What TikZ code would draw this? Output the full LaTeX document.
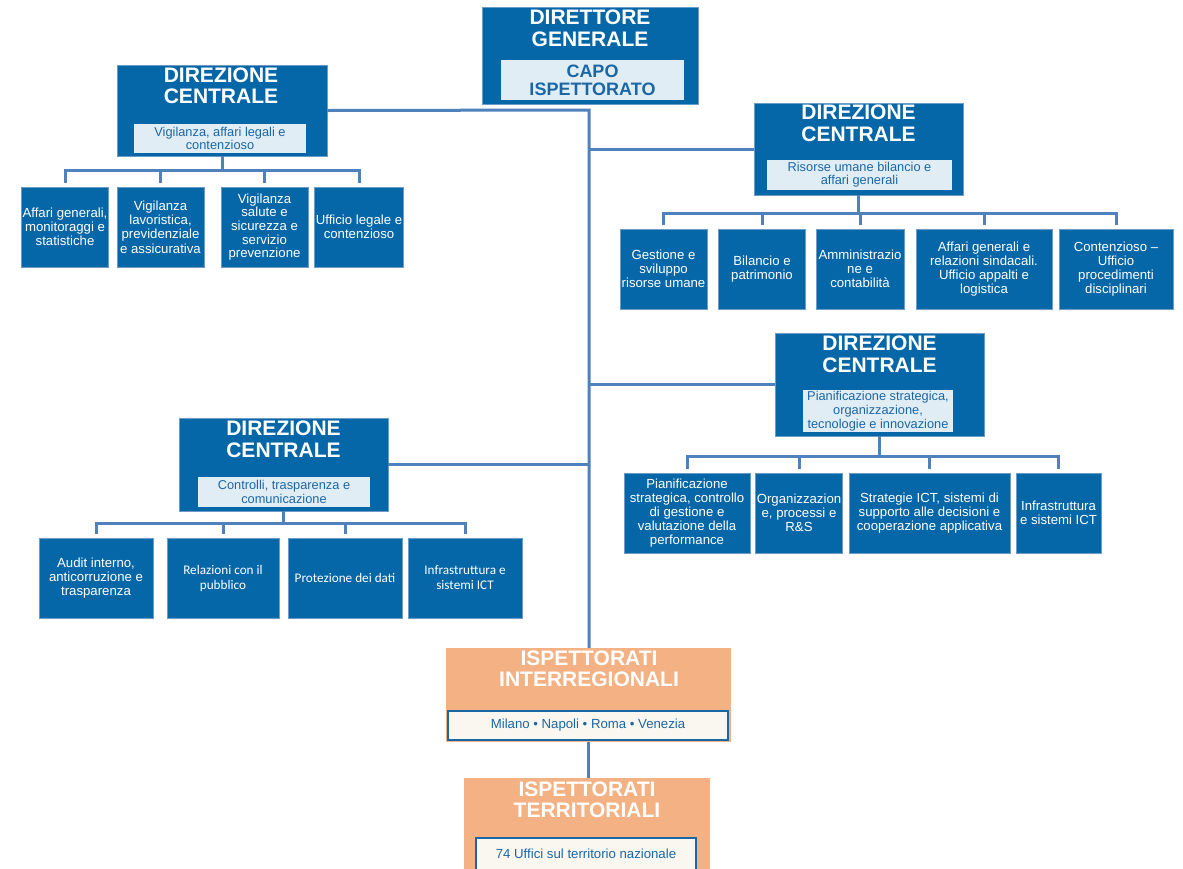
\documentclass[tikz,border=0pt]{standalone}
\usepackage{fontspec}
\setmainfont{Liberation Sans}
\newfontfamily\calibrifont{Carlito}
\usetikzlibrary{calc}
\definecolor{unitblue}{HTML}{0566A8}
\definecolor{unitedge}{HTML}{6C9BC8}
\definecolor{linkblue}{HTML}{4F81BD}
\definecolor{paleblue}{HTML}{E1EDF5}
\definecolor{textblue}{HTML}{1B67A6}
\definecolor{peach}{HTML}{F4B183}
\definecolor{cream}{HTML}{FAF6F0}

\begin{document}
\begin{tikzpicture}[x=1pt,y=-1pt,
  unitbox/.style={draw=unitedge,line width=.8pt,fill=unitblue,inner sep=0pt},
  headline/.style={text=white,font=\fontsize{21}{21.5}\selectfont\bfseries,
                   align=center,inner sep=0pt},
  tag/.style={fill=paleblue,text=textblue,font=\fontsize{12.8}{13.2}\selectfont,
              align=center,inner sep=0pt},
  office/.style={draw=unitedge,line width=.8pt,fill=unitblue,text=white,
                 font=\fontsize{13.2}{14.2}\selectfont,align=center,
                 inner sep=1pt,minimum height=80pt},
  calib/.style={font=\calibrifont\fontsize{13.2}{15}\selectfont},
  region/.style={fill=peach,inner sep=0pt},
  seat/.style={fill=cream,draw=textblue,line width=2.4pt,text=textblue,
               font=\fontsize{13.2}{14}\selectfont,inner sep=0pt},
  edge/.style={draw=linkblue,line width=3pt},
  drop/.style={edge,shorten >=4pt}
]
\fill[white] (0,0) rectangle (1183,868);
\useasboundingbox (0,0) rectangle (1183,868);

% direttore generale
\node[unitbox,minimum width=216pt,minimum height=97pt] (dg) at (590,55.5) {};
\node[headline] (dgt) at (590,28.5) {DIRETTORE\\GENERALE};
\node[tag,minimum width=183pt,minimum height=40pt,
      font=\fontsize{18}{18}\selectfont\bfseries] (capo) at (592.5,80)
  {CAPO\\ISPETTORATO};

% direzioni centrali
\node[unitbox,minimum width=210pt,minimum height=91pt] (dc1) at (222,110.5) {};
\node[headline] (dc1t) at (221,86) {DIREZIONE\\CENTRALE};
\node[tag,minimum width=172pt,minimum height=29pt] (dc1s) at (220,138.5)
  {Vigilanza, affari legali e\\contenzioso};

\node[unitbox,minimum width=209pt,minimum height=92pt] (dc2) at (858.5,149) {};
\node[headline] (dc2t) at (858.5,123.5) {DIREZIONE\\CENTRALE};
\node[tag,minimum width=185pt,minimum height=30pt] (dc2s) at (859.5,175)
  {Risorse umane bilancio e\\affari generali};

\node[unitbox,minimum width=209pt,minimum height=103pt] (dc3) at (879.5,384.5) {};
\node[headline] (dc3t) at (879.5,354.5) {DIREZIONE\\CENTRALE};
\node[tag,minimum width=150pt,minimum height=42pt,
      font=\fontsize{12.8}{14}\selectfont] (dc3s) at (878,411)
  {Pianificazione strategica,\\organizzazione,\\tecnologie e innovazione};

\node[unitbox,minimum width=209pt,minimum height=93pt] (dc4) at (283.5,464.5) {};
\node[headline] (dc4t) at (283.5,439.5) {DIREZIONE\\CENTRALE};
\node[tag,minimum width=172pt,minimum height=30pt] (dc4s) at (284,492)
  {Controlli, trasparenza e\\comunicazione};

% uffici
\node[office,minimum width=86pt] (vg1) at (65,227) {Affari generali,\\monitoraggi e\\statistiche};
\node[office,minimum width=87pt] (vg2) at (160.5,227) {Vigilanza\\lavoristica,\\previdenziale\\e assicurativa};
\node[office,minimum width=87pt,font=\fontsize{13.2}{13.6}\selectfont] (vg3) at (264.5,227)
  {Vigilanza\\salute e\\sicurezza e\\servizio\\prevenzione};
\node[office,minimum width=86pt] (vg4) at (359,227) {Ufficio legale e\\contenzioso};

\node[office,minimum width=87pt] (ru1) at (663.5,269) {Gestione e\\sviluppo\\risorse umane};
\node[office,minimum width=87pt] (ru2) at (762,269) {Bilancio e\\patrimonio};
\node[office,minimum width=88pt] (ru3) at (860,269) {Amministrazio\\ne e\\contabilità};
\node[office,minimum width=136pt] (ru4) at (984,269)
  {Affari generali e\\relazioni sindacali.\\Ufficio appalti e\\logistica};
\node[office,minimum width=114pt] (ru5) at (1116,269)
  {Contenzioso --\\Ufficio\\procedimenti\\disciplinari};

\node[office,minimum width=126pt] (pl1) at (687,513)
  {Pianificazione\\strategica, controllo\\di gestione e\\valutazione della\\performance};
\node[office,minimum width=86pt] (pl2) at (799,513) {Organizzazion\\e, processi e\\R\&S};
\node[office,minimum width=161pt] (pl3) at (929.5,513)
  {Strategie ICT, sistemi di\\supporto alle decisioni e\\cooperazione applicativa};
\node[office,minimum width=85pt] (pl4) at (1058.5,513) {Infrastruttura\\e sistemi ICT};

\node[office,minimum width=114pt] (ct1) at (96,578) {Audit interno,\\anticorruzione e\\trasparenza};
\node[office,calib,minimum width=112pt] (ct2) at (223,578) {Relazioni con il\\pubblico};
\node[office,calib,minimum width=114pt] (ct3) at (345,578) {Protezione dei dati};
\node[office,calib,minimum width=114pt] (ct4) at (465,578) {Infrastruttura e\\sistemi ICT};

% ispettorati
\node[region,minimum width=285pt,minimum height=94pt] (ii) at (588.5,695) {};
\node[headline] (iit) at (589,669) {ISPETTORATI\\INTERREGIONALI};
\node[seat,minimum width=280pt,minimum height=28.6pt] (iis) at (588,725.5)
  {Milano • Napoli • Roma • Venezia};

\node[region,minimum width=246pt,minimum height=104pt] (it) at (587,830) {};
\node[headline] (itt) at (587,800) {ISPETTORATI\\TERRITORIALI};
\node[seat,minimum width=220pt,minimum height=32pt] (its) at (586,854)
  {74 Uffici sul territorio nazionale};

% collegamenti
\coordinate (spine) at (589,110);
\draw[edge] (dc1.east) -- (spine) -- (spine |- ii.north);
\draw[edge] (spine |- dc2.west) -- (dc2.west);
\draw[edge] (spine |- dc3.west) -- (dc3.west);
\draw[edge] (dc4.east) -- (spine |- dc4.east);
\draw[edge] (ii.south) -- (ii.south |- it.north);

\coordinate (dc1bar) at (222,170);
\draw[edge] (dc1.south) -- (dc1bar);
\foreach \n in {vg1,vg2,vg3,vg4} \draw[drop] (dc1bar) -| (\n.north);

\coordinate (dc2bar) at (858.5,213);
\draw[edge] (dc2.south) -- (dc2bar);
\foreach \n in {ru1,ru2,ru3,ru4,ru5} \draw[drop] (dc2bar) -| (\n.north);

\coordinate (dc3bar) at (879.5,456);
\draw[edge] (dc3.south) -- (dc3bar);
\foreach \n in {pl1,pl2,pl3,pl4} \draw[drop] (dc3bar) -| (\n.north);

\coordinate (dc4bar) at (283.5,523);
\draw[edge] (dc4.south) -- (dc4bar);
\foreach \n in {ct1,ct2,ct3,ct4} \draw[drop] (dc4bar) -| (\n.north);
\end{tikzpicture}
\end{document}
